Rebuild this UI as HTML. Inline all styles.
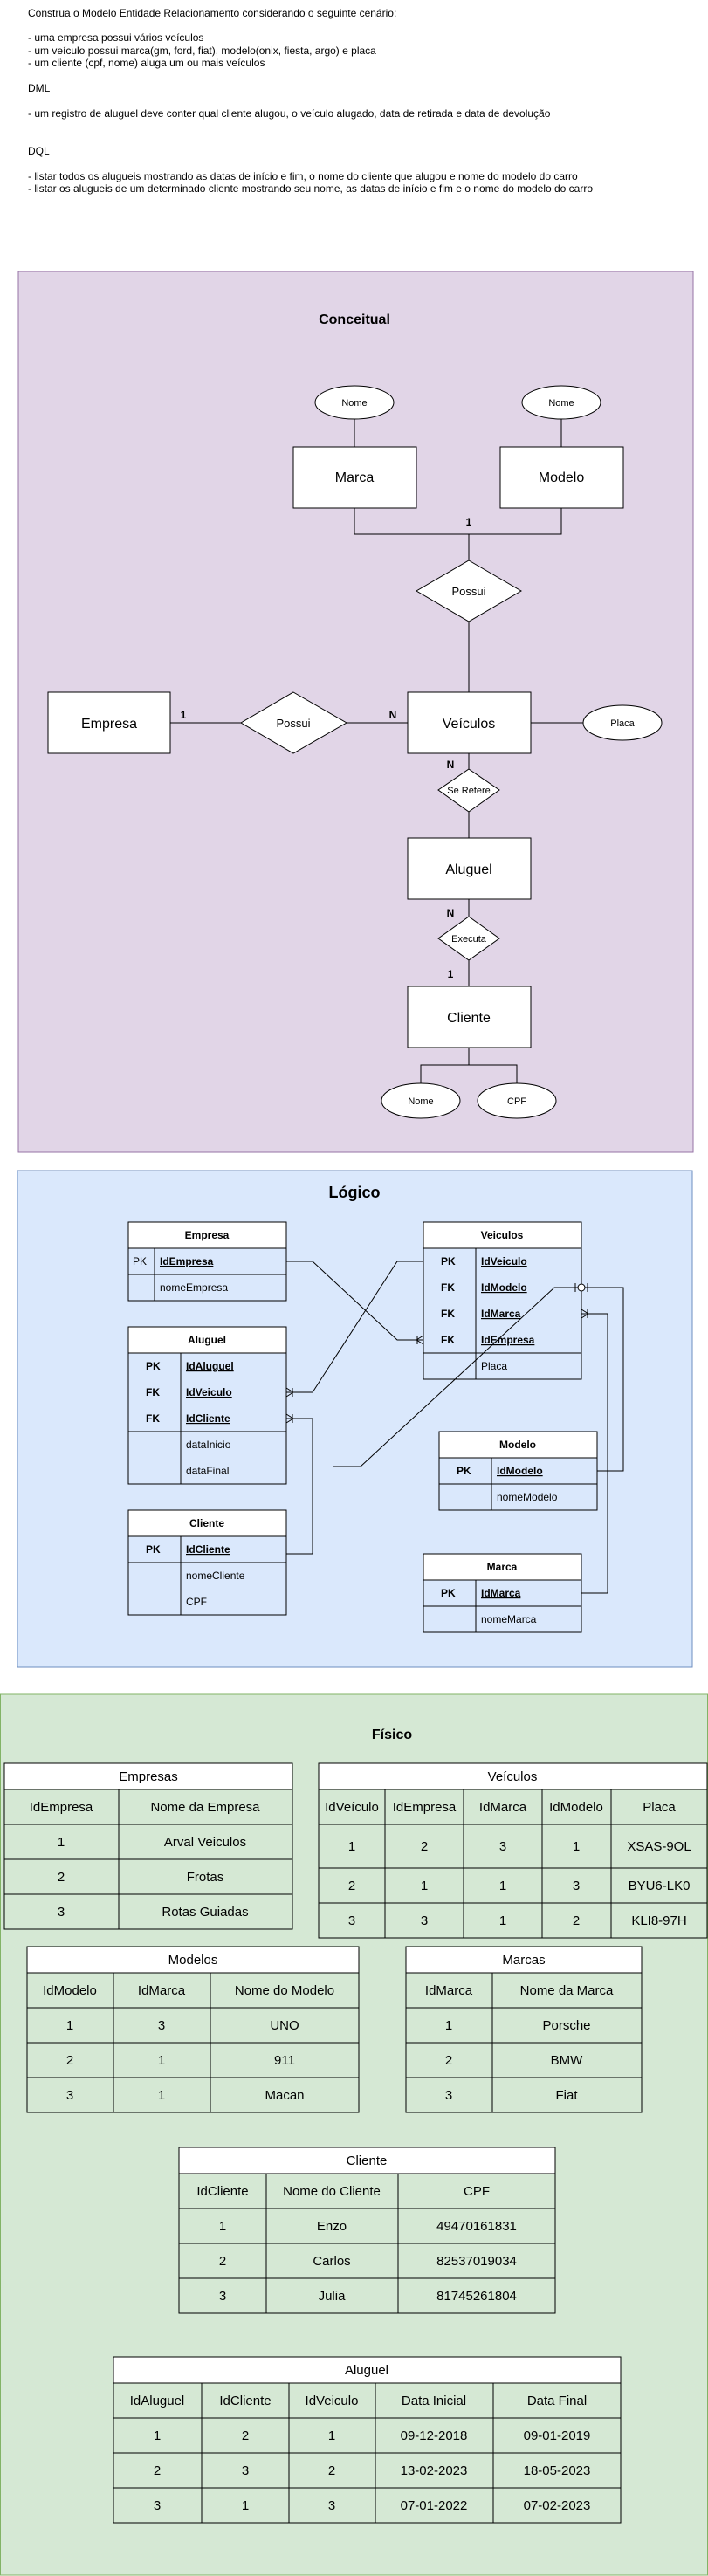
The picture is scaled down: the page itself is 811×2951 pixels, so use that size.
<!DOCTYPE html>
<html><head><meta charset="utf-8"><style>
html,body{margin:0;padding:0;background:#fff}
svg{display:block}
text{font-family:"Liberation Sans",Arial,sans-serif;fill:#000}
.t{font-size:12px}
.c{text-anchor:middle}
.b{font-weight:bold}
.u{text-decoration:underline}
</style></head><body>
<svg width="811" height="2951" viewBox="0 0 811 2951" xmlns="http://www.w3.org/2000/svg">
<g class="t">
<text x="32" y="19">Construa o Modelo Entidade Relacionamento considerando o seguinte cenário:</text>
<text x="32" y="47">- uma empresa possui vários veículos</text>
<text x="32" y="62">- um veículo possui marca(gm, ford, fiat), modelo(onix, fiesta, argo) e placa</text>
<text x="32" y="76">- um cliente (cpf, nome) aluga um ou mais veículos</text>
<text x="32" y="105">DML</text>
<text x="32" y="134">- um registro de aluguel deve conter qual cliente alugou, o veículo alugado, data de retirada e data de devolução</text>
<text x="32" y="177">DQL</text>
<text x="32" y="206">- listar todos os alugueis mostrando as datas de início e fim, o nome do cliente que alugou e nome do modelo do carro</text>
<text x="32" y="220">- listar os alugueis de um determinado cliente mostrando seu nome, as datas de início e fim e o nome do modelo do carro</text>
</g>

<!-- Conceitual -->
<rect x="21" y="311" width="773" height="1009" fill="#e1d5e7" stroke="#9673a6"/>
<text x="406" y="371" class="c b" font-size="16">Conceitual</text>
<g stroke="#000" fill="none">
<line x1="406" y1="480" x2="406" y2="512"/><line x1="643" y1="480" x2="643" y2="512"/>
<polyline points="406,582 406,612 643,612 643,582"/>
<line x1="537" y1="612" x2="537" y2="642"/><line x1="537" y1="712" x2="537" y2="793"/>
<line x1="195" y1="828" x2="276" y2="828"/><line x1="397" y1="828" x2="467" y2="828"/>
<line x1="608" y1="828" x2="668" y2="828"/>
<line x1="537" y1="863" x2="537" y2="881"/><line x1="537" y1="930" x2="537" y2="960"/>
<line x1="537" y1="1030" x2="537" y2="1050"/><line x1="537" y1="1100" x2="537" y2="1130"/>
<polyline points="537,1200 537,1220"/><polyline points="482,1241 482,1220 592,1220 592,1241"/>
</g>
<g stroke="#000" fill="#fff">
<ellipse cx="406" cy="461" rx="45" ry="19"/><ellipse cx="643" cy="461" rx="45" ry="19"/>
<rect x="336" y="512" width="141" height="70"/><rect x="573" y="512" width="141" height="70"/>
<polygon points="537,642 597,677 537,712 477,677"/>
<rect x="55" y="793" width="140" height="70"/>
<polygon points="336,793 397,828 336,863 276,828"/>
<rect x="467" y="793" width="141" height="70"/>
<ellipse cx="713" cy="828" rx="45" ry="20"/>
<polygon points="537,881 572,905 537,930 502,905"/>
<rect x="467" y="960" width="141" height="70"/>
<polygon points="537,1050 572,1075 537,1100 502,1075"/>
<rect x="467" y="1130" width="141" height="70"/>
<ellipse cx="482" cy="1261" rx="45" ry="20"/><ellipse cx="592" cy="1261" rx="45" ry="20"/>
</g>
<g class="c">
<text x="406" y="465" font-size="11">Nome</text><text x="643" y="465" font-size="11">Nome</text>
<text x="406" y="552" font-size="16">Marca</text><text x="643" y="552" font-size="16">Modelo</text>
<text x="537" y="602" class="b" font-size="12">1</text>
<text x="537" y="682" font-size="13">Possui</text>
<text x="125" y="834" font-size="16">Empresa</text>
<text x="336" y="833" font-size="13">Possui</text>
<text x="210" y="823" class="b" font-size="12">1</text><text x="450" y="823" class="b" font-size="12">N</text>
<text x="537" y="834" font-size="16">Veículos</text>
<text x="713" y="832" font-size="11">Placa</text>
<text x="516" y="880" class="b" font-size="12">N</text>
<text x="537" y="909" font-size="11">Se Refere</text>
<text x="537" y="1001" font-size="16">Aluguel</text>
<text x="516" y="1050" class="b" font-size="12">N</text>
<text x="537" y="1079" font-size="11">Executa</text>
<text x="516" y="1120" class="b" font-size="12">1</text>
<text x="537" y="1171" font-size="16">Cliente</text>
<text x="482" y="1265" font-size="11">Nome</text><text x="592" y="1265" font-size="11">CPF</text>
</g>

<!-- Logico -->
<rect x="20" y="1341" width="773" height="569" fill="#dae8fc" stroke="#6c8ebf"/>
<text x="406" y="1372" class="c b" font-size="18">Lógico</text>
<g stroke="#000" fill="none">
<!-- Empresa -->
<rect x="147" y="1400" width="181" height="90"/><rect x="147" y="1400" width="181" height="30" fill="#fff"/>
<line x1="147" y1="1460" x2="328" y2="1460"/><line x1="177" y1="1430" x2="177" y2="1490"/>
<!-- Veiculos -->
<rect x="485" y="1400" width="181" height="180"/><rect x="485" y="1400" width="181" height="30" fill="#fff"/>
<line x1="485" y1="1550" x2="666" y2="1550"/><line x1="545" y1="1430" x2="545" y2="1580"/>
<!-- Aluguel -->
<rect x="147" y="1520" width="181" height="180"/><rect x="147" y="1520" width="181" height="30" fill="#fff"/>
<line x1="147" y1="1640" x2="328" y2="1640"/><line x1="207" y1="1550" x2="207" y2="1700"/>
<!-- Cliente -->
<rect x="147" y="1730" width="181" height="120"/><rect x="147" y="1730" width="181" height="30" fill="#fff"/>
<line x1="147" y1="1790" x2="328" y2="1790"/><line x1="207" y1="1760" x2="207" y2="1850"/>
<!-- Modelo -->
<rect x="503" y="1640" width="181" height="90"/><rect x="503" y="1640" width="181" height="30" fill="#fff"/>
<line x1="503" y1="1700" x2="684" y2="1700"/><line x1="563" y1="1670" x2="563" y2="1730"/>
<!-- Marca -->
<rect x="485" y="1780" width="181" height="90"/><rect x="485" y="1780" width="181" height="30" fill="#fff"/>
<line x1="485" y1="1840" x2="666" y2="1840"/><line x1="545" y1="1810" x2="545" y2="1870"/>
<!-- connectors -->
<polyline points="328,1445 358,1445 455,1535 485,1535"/>
<path d="M477,1535 L485,1530 M477,1535 L485,1540 M478,1530 V1540"/>
<polyline points="485,1445 455,1445 358,1595 328,1595"/>
<path d="M336,1595 L328,1590 M336,1595 L328,1600 M335,1590 V1600"/>
<polyline points="328,1780 358,1780 358,1625 328,1625"/>
<path d="M336,1625 L328,1620 M336,1625 L328,1630 M335,1620 V1630"/>
<polyline points="684,1685 714,1685 714,1475 666,1475"/>
<polyline points="382,1680 413,1680 635,1475 666,1475"/>
<path d="M659,1470 V1480 M673,1470 V1480"/>
<polyline points="666,1825 696,1825 696,1505 666,1505"/>
<path d="M674,1505 L666,1500 M674,1505 L666,1510 M673,1500 V1510"/>
</g>
<circle cx="666" cy="1475" r="4" fill="#fff" stroke="#000"/>
<g class="t">
<text x="237" y="1419" class="c b">Empresa</text>
<text x="152" y="1449">PK</text><text x="183" y="1449" class="u b">IdEmpresa</text>
<text x="183" y="1479">nomeEmpresa</text>
<text x="575" y="1419" class="c b">Veiculos</text>
<text x="505" y="1449" class="b">PK</text><text x="551" y="1449" class="u b">IdVeiculo</text>
<text x="505" y="1479" class="b">FK</text><text x="551" y="1479" class="u b">IdModelo</text>
<text x="505" y="1509" class="b">FK</text><text x="551" y="1509" class="u b">IdMarca</text>
<text x="505" y="1539" class="b">FK</text><text x="551" y="1539" class="u b">IdEmpresa</text>
<text x="551" y="1569">Placa</text>
<text x="237" y="1539" class="c b">Aluguel</text>
<text x="167" y="1569" class="b">PK</text><text x="213" y="1569" class="u b">IdAluguel</text>
<text x="167" y="1599" class="b">FK</text><text x="213" y="1599" class="u b">IdVeiculo</text>
<text x="167" y="1629" class="b">FK</text><text x="213" y="1629" class="u b">IdCliente</text>
<text x="213" y="1659">dataInicio</text><text x="213" y="1689">dataFinal</text>
<text x="237" y="1749" class="c b">Cliente</text>
<text x="167" y="1779" class="b">PK</text><text x="213" y="1779" class="u b">IdCliente</text>
<text x="213" y="1809">nomeCliente</text><text x="213" y="1839">CPF</text>
<text x="593" y="1659" class="c b">Modelo</text>
<text x="523" y="1689" class="b">PK</text><text x="569" y="1689" class="u b">IdModelo</text>
<text x="569" y="1719">nomeModelo</text>
<text x="575" y="1799" class="c b">Marca</text>
<text x="505" y="1829" class="b">PK</text><text x="551" y="1829" class="u b">IdMarca</text>
<text x="551" y="1859">nomeMarca</text>
</g>

<!-- Fisico -->
<rect x="0.5" y="1941" width="810" height="1009" fill="#d5e8d4" stroke="#82b366"/>
<text x="449" y="1992" class="c b" font-size="16">Físico</text>
<g stroke="#000" fill="none">
<!-- Empresas -->
<rect x="5" y="2020" width="330" height="190"/><rect x="5" y="2020" width="330" height="30" fill="#fff"/>
<path d="M5,2090 H335 M5,2130 H335 M5,2170 H335 M136,2050 V2210"/>
<!-- Veiculos -->
<rect x="365" y="2020" width="445" height="200"/><rect x="365" y="2020" width="445" height="30" fill="#fff"/>
<path d="M365,2090 H810 M365,2140 H810 M365,2180 H810 M441,2050 V2220 M531,2050 V2220 M621,2050 V2220 M700,2050 V2220"/>
<!-- Modelos -->
<rect x="31" y="2230" width="380" height="190"/><rect x="31" y="2230" width="380" height="30" fill="#fff"/>
<path d="M31,2300 H411 M31,2340 H411 M31,2380 H411 M130,2260 V2420 M241,2260 V2420"/>
<!-- Marcas -->
<rect x="465" y="2230" width="270" height="190"/><rect x="465" y="2230" width="270" height="30" fill="#fff"/>
<path d="M465,2300 H735 M465,2340 H735 M465,2380 H735 M564,2260 V2420"/>
<!-- Cliente -->
<rect x="205" y="2460" width="431" height="190"/><rect x="205" y="2460" width="431" height="30" fill="#fff"/>
<path d="M205,2530 H636 M205,2570 H636 M205,2610 H636 M305,2490 V2650 M456,2490 V2650"/>
<!-- Aluguel -->
<rect x="130" y="2700" width="581" height="190"/><rect x="130" y="2700" width="581" height="30" fill="#fff"/>
<path d="M130,2770 H711 M130,2810 H711 M130,2850 H711 M231,2730 V2890 M331,2730 V2890 M430,2730 V2890 M565,2730 V2890"/>
</g>
<g class="c" font-size="15">
<text x="170" y="2040">Empresas</text>
<text x="70" y="2075">IdEmpresa</text><text x="235" y="2075">Nome da Empresa</text>
<text x="70" y="2115">1</text><text x="235" y="2115">Arval Veiculos</text>
<text x="70" y="2155">2</text><text x="235" y="2155">Frotas</text>
<text x="70" y="2195">3</text><text x="235" y="2195">Rotas Guiadas</text>

<text x="587" y="2040">Veículos</text>
<text x="403" y="2075">IdVeículo</text><text x="486" y="2075">IdEmpresa</text><text x="576" y="2075">IdMarca</text><text x="660" y="2075">IdModelo</text><text x="755" y="2075">Placa</text>
<text x="403" y="2120">1</text><text x="486" y="2120">2</text><text x="576" y="2120">3</text><text x="660" y="2120">1</text><text x="755" y="2120">XSAS-9OL</text>
<text x="403" y="2165">2</text><text x="486" y="2165">1</text><text x="576" y="2165">1</text><text x="660" y="2165">3</text><text x="755" y="2165">BYU6-LK0</text>
<text x="403" y="2205">3</text><text x="486" y="2205">3</text><text x="576" y="2205">1</text><text x="660" y="2205">2</text><text x="755" y="2205">KLI8-97H</text>

<text x="221" y="2250">Modelos</text>
<text x="80" y="2285">IdModelo</text><text x="185" y="2285">IdMarca</text><text x="326" y="2285">Nome do Modelo</text>
<text x="80" y="2325">1</text><text x="185" y="2325">3</text><text x="326" y="2325">UNO</text>
<text x="80" y="2365">2</text><text x="185" y="2365">1</text><text x="326" y="2365">911</text>
<text x="80" y="2405">3</text><text x="185" y="2405">1</text><text x="326" y="2405">Macan</text>

<text x="600" y="2250">Marcas</text>
<text x="514" y="2285">IdMarca</text><text x="649" y="2285">Nome da Marca</text>
<text x="514" y="2325">1</text><text x="649" y="2325">Porsche</text>
<text x="514" y="2365">2</text><text x="649" y="2365">BMW</text>
<text x="514" y="2405">3</text><text x="649" y="2405">Fiat</text>

<text x="420" y="2480">Cliente</text>
<text x="255" y="2515">IdCliente</text><text x="380" y="2515">Nome do Cliente</text><text x="546" y="2515">CPF</text>
<text x="255" y="2555">1</text><text x="380" y="2555">Enzo</text><text x="546" y="2555">49470161831</text>
<text x="255" y="2595">2</text><text x="380" y="2595">Carlos</text><text x="546" y="2595">82537019034</text>
<text x="255" y="2635">3</text><text x="380" y="2635">Julia</text><text x="546" y="2635">81745261804</text>

<text x="420" y="2720">Aluguel</text>
<text x="180" y="2755">IdAluguel</text><text x="281" y="2755">IdCliente</text><text x="380" y="2755">IdVeiculo</text><text x="497" y="2755">Data Inicial</text><text x="638" y="2755">Data Final</text>
<text x="180" y="2795">1</text><text x="281" y="2795">2</text><text x="380" y="2795">1</text><text x="497" y="2795">09-12-2018</text><text x="638" y="2795">09-01-2019</text>
<text x="180" y="2835">2</text><text x="281" y="2835">3</text><text x="380" y="2835">2</text><text x="497" y="2835">13-02-2023</text><text x="638" y="2835">18-05-2023</text>
<text x="180" y="2875">3</text><text x="281" y="2875">1</text><text x="380" y="2875">3</text><text x="497" y="2875">07-01-2022</text><text x="638" y="2875">07-02-2023</text>
</g>
</svg>
</body></html>
